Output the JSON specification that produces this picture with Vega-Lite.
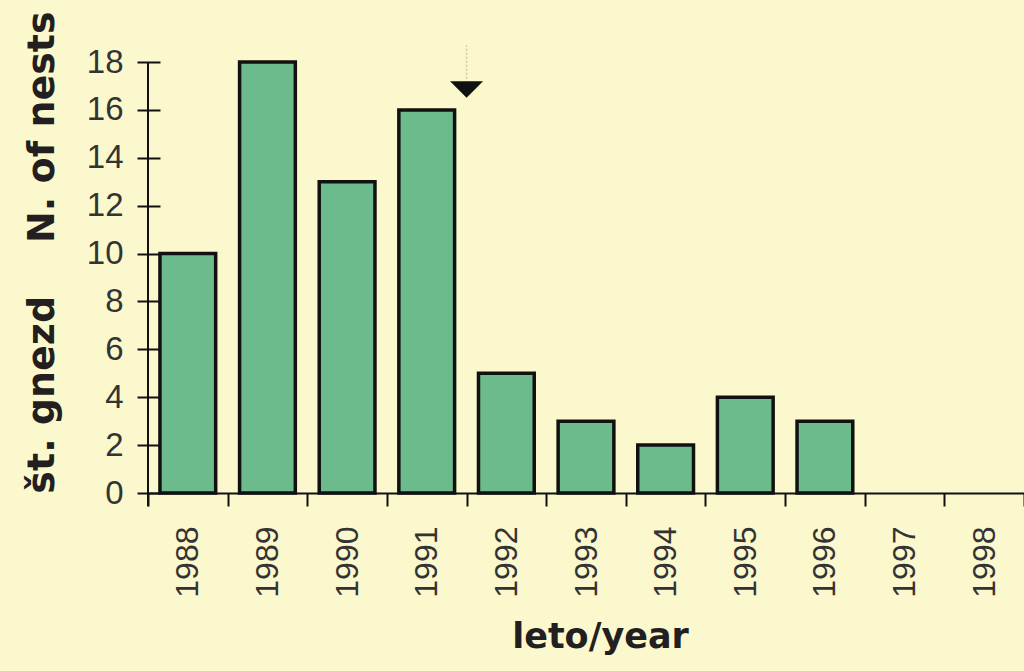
{
  "$schema": "https://vega.github.io/schema/vega-lite/v6.json",
  "autosize": {"type": "none"},
  "padding": {"left": 148, "top": 62, "right": 0, "bottom": 178},
  "width": 876,
  "height": 431,
  "background": "#fbf8cd",
  "config": {"view": {"stroke": null}},
  "datasets": {
    "nests": [
      {"year": "1988", "nests": 10},
      {"year": "1989", "nests": 18},
      {"year": "1990", "nests": 13},
      {"year": "1991", "nests": 16},
      {"year": "1992", "nests": 5},
      {"year": "1993", "nests": 3},
      {"year": "1994", "nests": 2},
      {"year": "1995", "nests": 4},
      {"year": "1996", "nests": 3},
      {"year": "1997", "nests": 0},
      {"year": "1998", "nests": 0}
    ],
    "axisline": [{"year": "1988", "y": -0.55, "y2": 18}],
    "marker": [{"year": "1991", "y": 16.85}],
    "guide": [{"year": "1991", "y": 17.3, "y2": 18.7}]
  },
  "layer": [
    {
      "data": {"name": "nests"},
      "transform": [{"filter": "datum.nests > 0"}],
      "mark": {"type": "bar", "width": {"band": 0.7}, "fill": "#6cbb8c", "stroke": "#111111", "strokeWidth": 3.5},
      "encoding": {
        "x": {
          "field": "year", "type": "nominal", "sort": null,
          "scale": {"domain": ["1988", "1989", "1990", "1991", "1992", "1993", "1994", "1995", "1996", "1997", "1998"], "paddingInner": 0, "paddingOuter": 0},
          "axis": {
            "title": "leto/year",
            "titleFont": "DejaVu Sans", "titleFontWeight": "bold", "titleFontSize": 35, "titleColor": "#231f20",
            "titleX": 452, "titleY": 154, "titleBaseline": "alphabetic", "titleAlign": "center",
            "labelAngle": 270, "labelFont": "Liberation Sans", "labelFontSize": 32, "labelColor": "#333333",
            "labelPadding": 20,
            "tickBand": "extent", "tickSize": 13, "tickColor": "#111111", "tickWidth": 2,
            "domainColor": "#111111", "domainWidth": 2, "grid": false
          }
        },
        "y": {
          "field": "nests", "type": "quantitative",
          "scale": {"domain": [0, 18], "nice": false},
          "axis": {
            "values": [0, 2, 4, 6, 8, 10, 12, 14, 16, 18],
            "offset": -12,
            "domain": false,
            "title": "št. gnezd\u00a0\u00a0\u00a0\u00a0N. of nests",
            "titleFont": "DejaVu Sans", "titleFontWeight": "bold", "titleFontSize": 38, "titleColor": "#231f20",
            "titleX": -107, "titleY": 190, "titleBaseline": "alphabetic", "titleAlign": "center", "titleAngle": 270,
            "labelFont": "Liberation Sans", "labelFontSize": 33, "labelColor": "#333333", "labelPadding": 14,
            "tickSize": 23, "tickColor": "#111111", "tickWidth": 2,
            "grid": false
          }
        }
      }
    },
    {
      "data": {"name": "axisline"},
      "mark": {"type": "rule", "color": "#111111", "strokeWidth": 2},
      "encoding": {
        "x": {"field": "year", "type": "nominal", "bandPosition": 0},
        "y": {"field": "y", "type": "quantitative"},
        "y2": {"field": "y2"}
      }
    },
    {
      "data": {"name": "guide"},
      "mark": {"type": "rule", "color": "#c9c6ae", "strokeWidth": 1.5, "strokeDash": [2, 2]},
      "encoding": {
        "x": {"field": "year", "type": "nominal", "bandPosition": 1},
        "y": {"field": "y", "type": "quantitative"},
        "y2": {"field": "y2"}
      }
    },
    {
      "data": {"name": "marker"},
      "mark": {"type": "point", "shape": "M-1,-0.5L1,-0.5L0,0.5Z", "size": 1089, "filled": true, "fill": "#111111", "opacity": 1},
      "encoding": {
        "x": {"field": "year", "type": "nominal", "bandPosition": 1},
        "y": {"field": "y", "type": "quantitative"}
      }
    }
  ]
}
